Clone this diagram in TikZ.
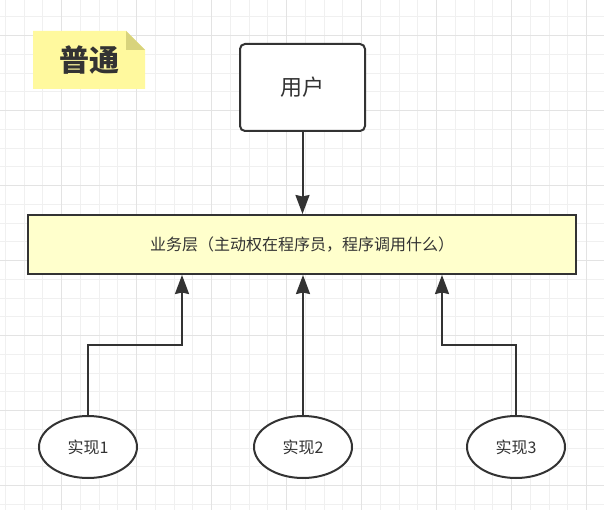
\documentclass[tikz,border=0pt]{standalone}
\usepackage{fontspec}
\setmainfont{Noto Sans CJK SC}
\usepackage{xcolor}
\usetikzlibrary{positioning,arrows.meta,shapes.geometric,calc}
\definecolor{ink}{HTML}{333333}
\definecolor{layerfill}{HTML}{FFFFCC}
\definecolor{notefill}{HTML}{FFF99E}
\definecolor{notefold}{HTML}{D8D37C}
\definecolor{gridminor}{HTML}{F0F0F0}
\definecolor{gridmajor}{HTML}{E3E3E3}

\begin{document}
\begin{tikzpicture}[
    x=1pt, y=-1pt,
    >={Stealth[length=19pt,width=14pt,inset=1.5pt]},
    arr/.style={->, line width=2pt, draw=ink},
    minor/.style={draw=gridminor, line width=1pt},
    major/.style={draw=gridmajor, line width=1pt},
    title/.style={font=\fontsize{30}{34}\selectfont\bfseries, text=ink},
    userbox/.style={
        rectangle, rounded corners=5pt, draw=ink, fill=white,
        minimum width=125pt, minimum height=87pt, line width=2pt,
        font=\fontsize{22}{26}\selectfont, text=ink
    },
    layer/.style={
        rectangle, draw=ink, fill=layerfill,
        minimum width=548pt, minimum height=59pt, line width=2pt,
        font=\fontsize{16}{19}\selectfont, text=ink
    },
    impl/.style={
        ellipse, draw=ink, fill=white, inner sep=0pt,
        minimum width=98pt, minimum height=62pt, line width=2pt,
        font=\fontsize{16}{19}\selectfont, text=ink
    }
]

% ---------------- Grid background ----------------
\fill[white] (0,0) rectangle (604,510);
\useasboundingbox (0,0) rectangle (604,510);
\foreach \k in {0,...,31} \draw[minor] (5.45+18.75*\k,0) -- (5.45+18.75*\k,510);
\foreach \k in {0,...,26} \draw[minor] (0,16.95+18.75*\k) -- (604,16.95+18.75*\k);
\foreach \k in {0,...,7} \draw[major] (61.7+75*\k,0) -- (61.7+75*\k,510);
\foreach \k in {0,...,6} \draw[major] (0,35.7+75*\k) -- (604,35.7+75*\k);

% ---------------- Note ----------------
\fill[notefill] (33,31) -- (126,31) -- (145,50) -- (145,89) -- (33,89) -- cycle;
\fill[notefold] (126,31) -- (126,50) -- (145,50) -- cycle;
\node[title] (title) at (89,60) {普通};

% ---------------- Nodes ----------------
\node[userbox] (user)  at (302.5,87.5) {用户};
\node[layer]   (biz)   at (302,244.5) {业务层（主动权在程序员，程序调用什么）};
\node[impl]    (impl1) at (88,447) {实现1};
\node[impl]    (impl2) at (303,447) {实现2};
\node[impl]    (impl3) at (516,447) {实现3};

% ---------------- Connectors ----------------
\draw[arr] (user.south) -- (user.south |- biz.north);
\draw[arr] (impl1.north) -- ++(0,-70) -| ([xshift=-120pt]biz.south);
\draw[arr] (impl2.north) -- (impl2.north |- biz.south);
\draw[arr] (impl3.north) -- ++(0,-70) -| ([xshift=140pt]biz.south);

\end{tikzpicture}
\end{document}
